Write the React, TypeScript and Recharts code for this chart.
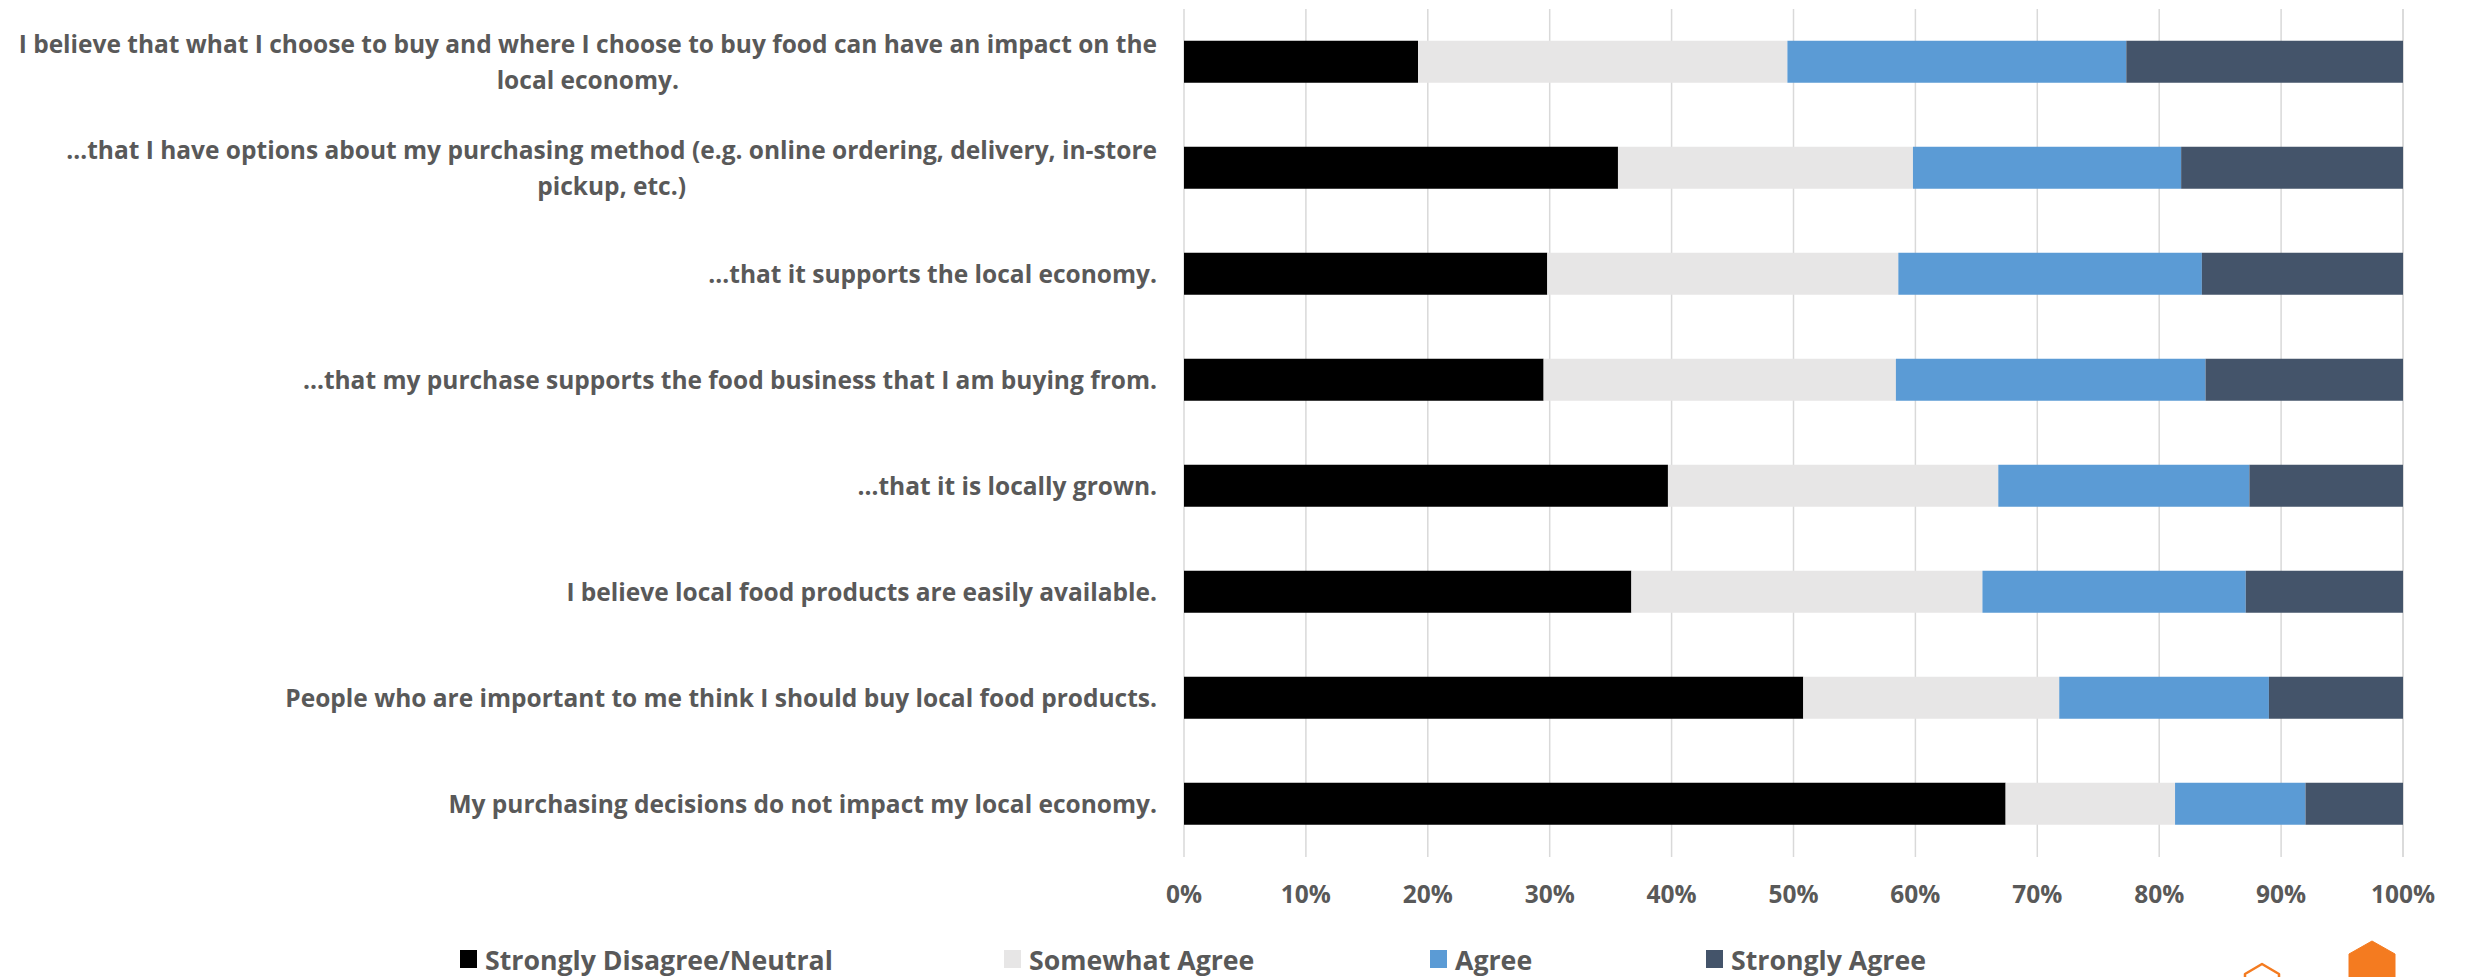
import React from "react";
import { BarChart, Bar, XAxis, YAxis, CartesianGrid, Legend } from "recharts";

const categories = [
  ["I believe that what I choose to buy and where I choose to buy food can have an impact on the", "local economy."],
  ["…that I have options about my purchasing method (e.g. online ordering, delivery, in-store", "pickup, etc.)"],
  ["…that it supports the local economy."],
  ["…that my purchase supports the food business that I am buying from."],
  ["…that it is locally grown."],
  ["I believe local food products are easily available."],
  ["People who are important to me think I should buy local food products."],
  ["My purchasing decisions do not impact my local economy."],
];
const stronglyDisagreeNeutral = [19.2, 35.6, 29.8, 29.5, 39.7, 36.7, 50.8, 67.4];
const somewhatAgree = [30.3, 24.2, 28.8, 28.9, 27.1, 28.8, 21.0, 13.9];
const agree = [27.8, 22.0, 24.9, 25.4, 20.6, 21.6, 17.2, 10.7];
const stronglyAgree = [22.7, 18.2, 16.5, 16.2, 12.6, 12.9, 11.0, 8.0];
const percentTicks = [0, 10, 20, 30, 40, 50, 60, 70, 80, 90, 100];

const rows = categories.map((lines, i) => ({
  name: lines.join(" "),
  a: stronglyDisagreeNeutral[i],
  b: somewhatAgree[i],
  c: agree[i],
  d: stronglyAgree[i],
}));

const FONT = "'Open Sans', sans-serif";
const INK = "#595959";
const WEIGHT = 700;
const SIZE = 24.5;
const LEGEND_SIZE = 26.7;

const measure = (text: string) => {
  const ctx = document.createElement("canvas").getContext("2d")!;
  ctx.font = `${WEIGHT} ${SIZE}px 'Open Sans'`;
  return ctx.measureText(text).width;
};

// Category labels sit right-aligned to the axis, with wrapped lines centred in their block.
const CategoryTick = ({ x, y, index }: any) => {
  const lines = categories[index];
  const right = x - 19;
  const widest = Math.max(...lines.map(measure));
  const cx = right - widest / 2;
  const lineGap = 36;
  return (
    <g>
      {lines.map((line, i) => (
        <text
          key={i}
          x={cx}
          y={y + 9 + (i - (lines.length - 1) / 2) * lineGap}
          textAnchor="middle"
          fontFamily={FONT}
          fontWeight={WEIGHT}
          fontSize={SIZE}
          fill={INK}
        >
          {line}
        </text>
      ))}
    </g>
  );
};

const legendOffsets = [460, 1004, 1430, 1706];

const LegendRow = ({ payload }: any) => (
  <div style={{ position: "relative", width: 2465, height: 40 }}>
    {(payload || []).map((item: any, i: number) => (
      <div
        key={item.value}
        style={{
          position: "absolute",
          left: legendOffsets[i],
          top: 0,
          display: "flex",
          alignItems: "center",
          height: 40,
          fontFamily: FONT,
          fontWeight: WEIGHT,
          fontSize: LEGEND_SIZE,
          color: INK,
          whiteSpace: "nowrap",
        }}
      >
        <span style={{ width: 17, height: 18, background: item.color, marginRight: 8, display: "inline-block" }} />
        {item.value}
      </div>
    ))}
  </div>
);

export default function App() {
  return (
    <div style={{ position: "absolute", left: 0, top: 0, width: 2465, height: 977, overflow: "hidden", background: "#fff" }}>
      <BarChart
        width={2465}
        height={977}
        layout="vertical"
        data={rows}
        barCategoryGap="30%"
        margin={{ top: 9, right: 62, bottom: 0, left: 0 }}
      >
        <CartesianGrid horizontal={false} stroke="#d9d9d9" strokeWidth={1.5} />
        <XAxis
          type="number"
          domain={[0, 100]}
          ticks={percentTicks}
          interval={0}
          height={80}
          axisLine={false}
          tickLine={false}
          tickMargin={23}
          tickFormatter={(v: number) => `${v}%`}
          tick={{ fontFamily: FONT, fontWeight: WEIGHT, fontSize: SIZE, fill: INK }}
        />
        <YAxis
          type="category"
          dataKey="name"
          width={1184}
          axisLine={false}
          tickLine={false}
          interval={0}
          tick={<CategoryTick />}
        />
        <Legend
          content={<LegendRow />}
          itemSorter={null}
          wrapperStyle={{ position: "absolute", left: 0, top: 939, width: 2465, height: 40 }}
        />
        <Bar dataKey="a" name="Strongly Disagree/Neutral" stackId="s" fill="#000000" isAnimationActive={false} />
        <Bar dataKey="b" name="Somewhat Agree" stackId="s" fill="#e7e6e6" isAnimationActive={false} />
        <Bar dataKey="c" name="Agree" stackId="s" fill="#5b9bd5" isAnimationActive={false} />
        <Bar dataKey="d" name="Strongly Agree" stackId="s" fill="#44546a" isAnimationActive={false} />
      </BarChart>
      {/* Brand hexagons, cut off by the lower edge of the page */}
      <svg width={2465} height={977} style={{ position: "absolute", left: 0, top: 0, pointerEvents: "none" }}>
        <path d="M2372 941 L2395 954 L2395 990 L2349 990 L2349 954 Z" fill="#f47b20" stroke="#f47b20" strokeLinejoin="round" strokeWidth={1} />
        <path d="M2262 964 L2279 974 L2279 990 L2245 990 L2245 974 Z" fill="none" stroke="#f47b20" strokeLinejoin="round" strokeWidth={2.5} />
      </svg>
    </div>
  );
}
